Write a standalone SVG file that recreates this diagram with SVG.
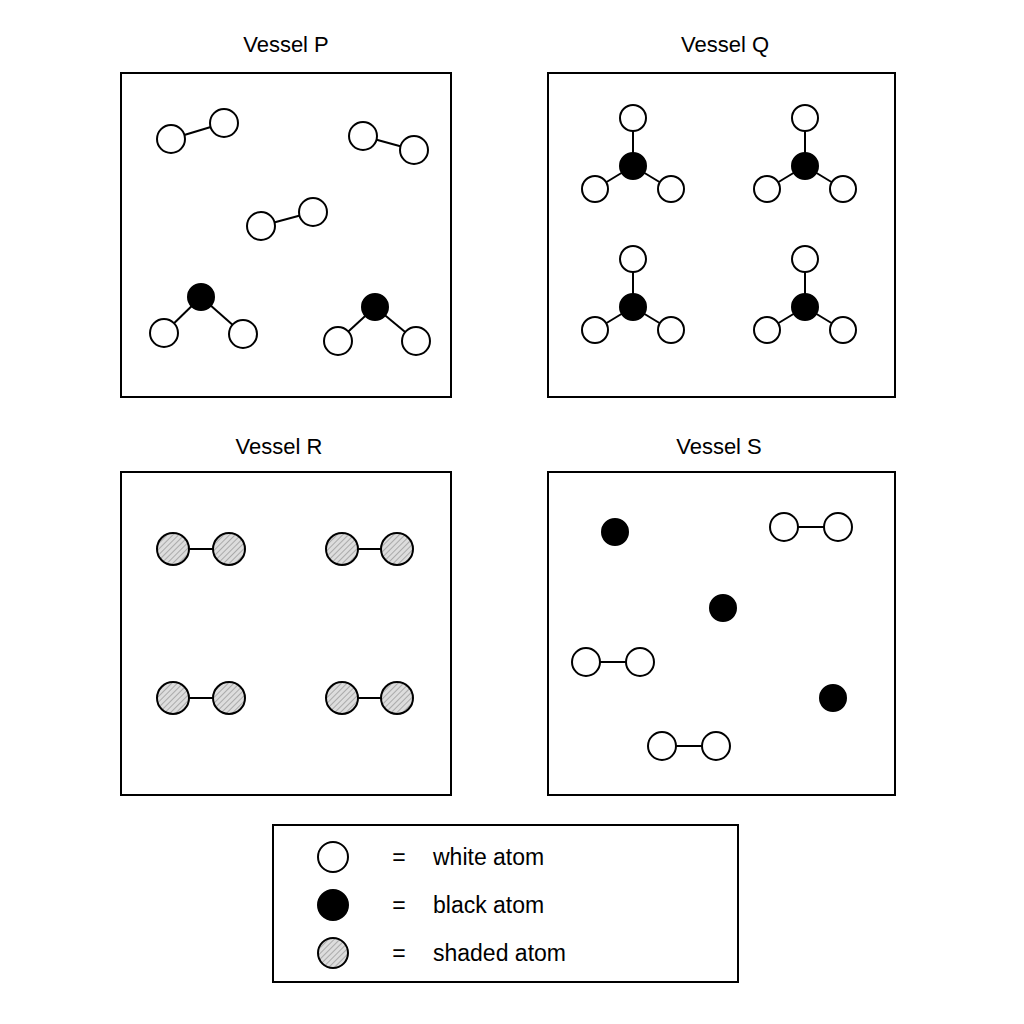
<svg xmlns="http://www.w3.org/2000/svg" width="1024" height="1024" viewBox="0 0 1024 1024">
<style>
.box{fill:#fff;stroke:#000;stroke-width:2}
.w{fill:#fff;stroke:#000;stroke-width:2}
.b{fill:#000;stroke:#000;stroke-width:2}
.s{fill:url(#hatch);stroke:#000;stroke-width:2}
.bond{stroke:#000;stroke-width:2}
text{font-family:"Liberation Sans",Arial,sans-serif;font-size:22px;fill:#000}
.lg{font-size:23px}
</style>
<defs>
<pattern id="hatch" width="4" height="4" patternUnits="userSpaceOnUse" patternTransform="rotate(45)">
<rect width="4" height="4" fill="#ddd"/>
<line x1="0" y1="0" x2="0" y2="4" stroke="#999" stroke-width="1.5"/>
</pattern>
</defs>
<rect width="1024" height="1024" fill="#fff"/>
<g id="vesselP">
<text x="286" y="52" text-anchor="middle">Vessel P</text>
<rect class="box" x="121" y="73" width="330" height="324"/>
<line class="bond" x1="171" y1="139" x2="224" y2="123"/><circle class="w" cx="171" cy="139" r="14"/><circle class="w" cx="224" cy="123" r="14"/>
<line class="bond" x1="363" y1="136" x2="414" y2="150"/><circle class="w" cx="363" cy="136" r="14"/><circle class="w" cx="414" cy="150" r="14"/>
<line class="bond" x1="261" y1="226" x2="313" y2="212"/><circle class="w" cx="261" cy="226" r="14"/><circle class="w" cx="313" cy="212" r="14"/>
<line class="bond" x1="201" y1="297" x2="164" y2="333"/><line class="bond" x1="201" y1="297" x2="243" y2="334"/>
<circle class="w" cx="164" cy="333" r="14"/><circle class="w" cx="243" cy="334" r="14"/><circle class="b" cx="201" cy="297" r="13"/>
<line class="bond" x1="375" y1="307" x2="338" y2="341"/><line class="bond" x1="375" y1="307" x2="416" y2="341"/>
<circle class="w" cx="338" cy="341" r="14"/><circle class="w" cx="416" cy="341" r="14"/><circle class="b" cx="375" cy="307" r="13"/>
</g>
<g id="vesselQ">
<text x="725" y="52" text-anchor="middle">Vessel Q</text>
<rect class="box" x="548" y="73" width="347" height="324"/>
<g id="q1" transform="translate(633,166)">
<line class="bond" x1="0" y1="0" x2="0" y2="-48"/><line class="bond" x1="0" y1="0" x2="-38" y2="23"/><line class="bond" x1="0" y1="0" x2="38" y2="23"/>
<circle class="w" cx="0" cy="-48" r="13"/><circle class="w" cx="-38" cy="23" r="13"/><circle class="w" cx="38" cy="23" r="13"/><circle class="b" cx="0" cy="0" r="13"/></g>
<g id="q2" transform="translate(805,166)">
<line class="bond" x1="0" y1="0" x2="0" y2="-48"/><line class="bond" x1="0" y1="0" x2="-38" y2="23"/><line class="bond" x1="0" y1="0" x2="38" y2="23"/>
<circle class="w" cx="0" cy="-48" r="13"/><circle class="w" cx="-38" cy="23" r="13"/><circle class="w" cx="38" cy="23" r="13"/><circle class="b" cx="0" cy="0" r="13"/></g>
<g id="q3" transform="translate(633,307)">
<line class="bond" x1="0" y1="0" x2="0" y2="-48"/><line class="bond" x1="0" y1="0" x2="-38" y2="23"/><line class="bond" x1="0" y1="0" x2="38" y2="23"/>
<circle class="w" cx="0" cy="-48" r="13"/><circle class="w" cx="-38" cy="23" r="13"/><circle class="w" cx="38" cy="23" r="13"/><circle class="b" cx="0" cy="0" r="13"/></g>
<g id="q4" transform="translate(805,307)">
<line class="bond" x1="0" y1="0" x2="0" y2="-48"/><line class="bond" x1="0" y1="0" x2="-38" y2="23"/><line class="bond" x1="0" y1="0" x2="38" y2="23"/>
<circle class="w" cx="0" cy="-48" r="13"/><circle class="w" cx="-38" cy="23" r="13"/><circle class="w" cx="38" cy="23" r="13"/><circle class="b" cx="0" cy="0" r="13"/></g>
</g>
<g id="vesselR">
<text x="279" y="454" text-anchor="middle">Vessel R</text>
<rect class="box" x="121" y="472" width="330" height="323"/>
<line class="bond" x1="173" y1="549" x2="229" y2="549"/><circle class="s" cx="173" cy="549" r="16"/><circle class="s" cx="229" cy="549" r="16"/>
<line class="bond" x1="342" y1="549" x2="397" y2="549"/><circle class="s" cx="342" cy="549" r="16"/><circle class="s" cx="397" cy="549" r="16"/>
<line class="bond" x1="173" y1="698" x2="229" y2="698"/><circle class="s" cx="173" cy="698" r="16"/><circle class="s" cx="229" cy="698" r="16"/>
<line class="bond" x1="342" y1="698" x2="397" y2="698"/><circle class="s" cx="342" cy="698" r="16"/><circle class="s" cx="397" cy="698" r="16"/>
</g>
<g id="vesselS">
<text x="719" y="454" text-anchor="middle">Vessel S</text>
<rect class="box" x="548" y="472" width="347" height="323"/>
<circle class="b" cx="615" cy="532" r="13"/>
<circle class="b" cx="723" cy="608" r="13"/>
<circle class="b" cx="833" cy="698" r="13"/>
<line class="bond" x1="784" y1="527" x2="838" y2="527"/><circle class="w" cx="784" cy="527" r="14"/><circle class="w" cx="838" cy="527" r="14"/>
<line class="bond" x1="586" y1="662" x2="640" y2="662"/><circle class="w" cx="586" cy="662" r="14"/><circle class="w" cx="640" cy="662" r="14"/>
<line class="bond" x1="662" y1="746" x2="716" y2="746"/><circle class="w" cx="662" cy="746" r="14"/><circle class="w" cx="716" cy="746" r="14"/>
</g>
<g id="legend">
<rect class="box" x="273" y="825" width="465" height="157"/>
<circle class="w" cx="333" cy="857" r="15"/><text class="lg" x="399" y="865" text-anchor="middle">=</text><text class="lg" x="433" y="865">white atom</text>
<circle class="b" cx="333" cy="905" r="15"/><text class="lg" x="399" y="913" text-anchor="middle">=</text><text class="lg" x="433" y="913">black atom</text>
<circle class="s" cx="333" cy="953" r="15"/><text class="lg" x="399" y="961" text-anchor="middle">=</text><text class="lg" x="433" y="961">shaded atom</text>
</g>
</svg>
